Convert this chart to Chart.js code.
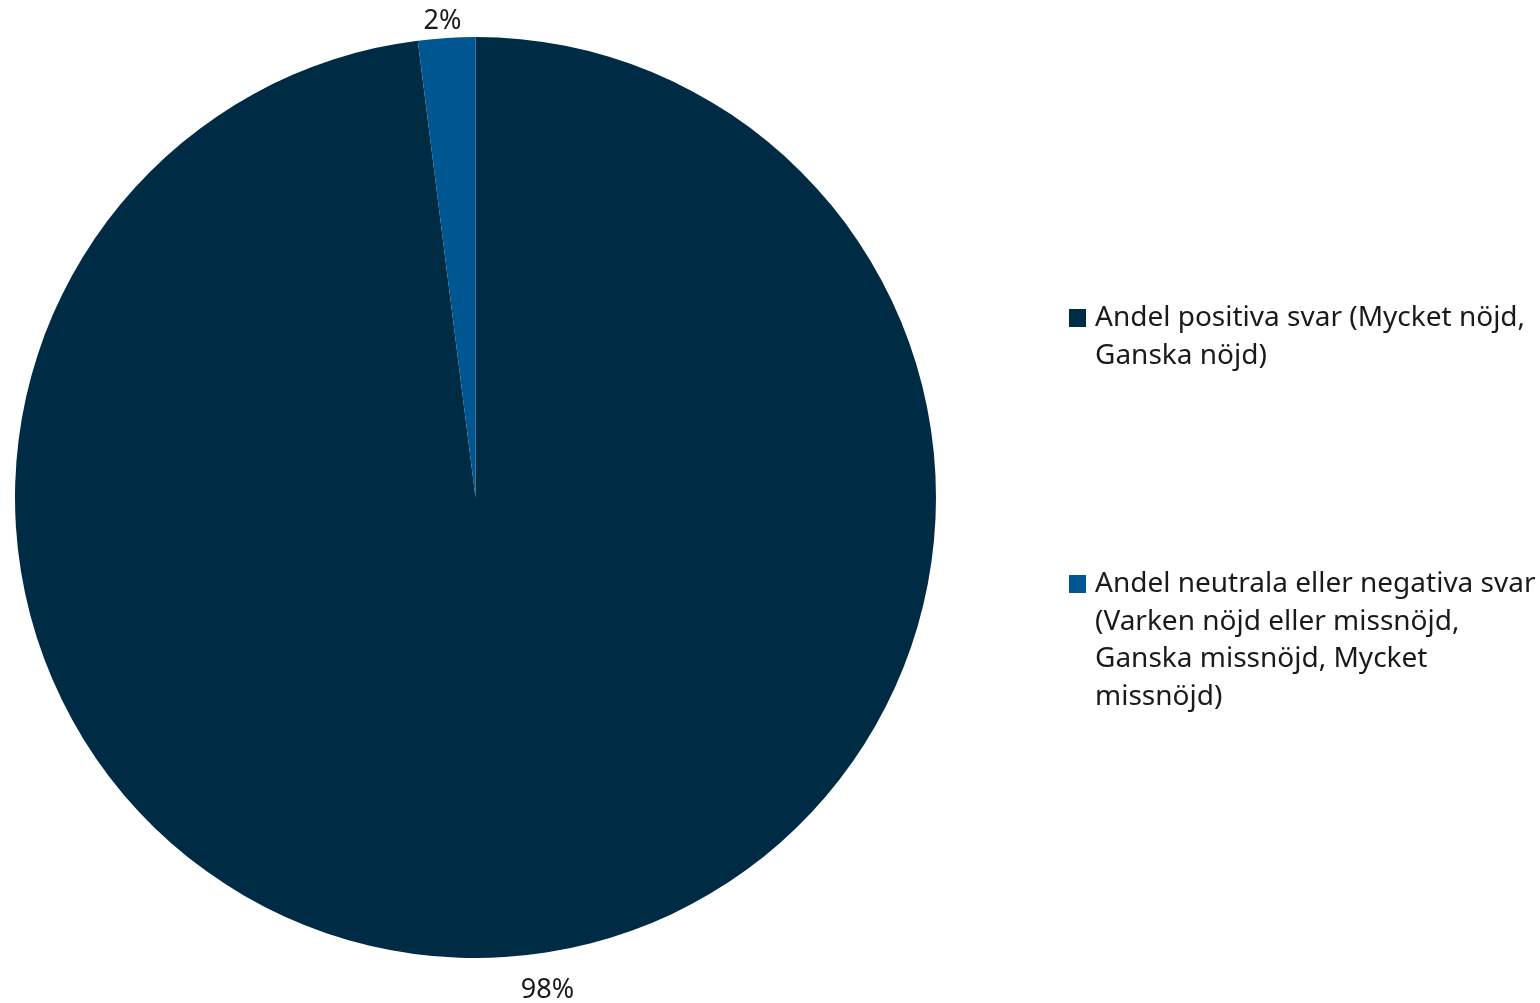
<!DOCTYPE html>
<html>
<head>
<meta charset="utf-8">
<script src="https://cdn.jsdelivr.net/npm/chart.js@4"></script>
<style>
  html, body { margin: 0; padding: 0; background: #fff; }
  #wrap { position: relative; width: 1540px; height: 1003px; }
  canvas { position: absolute; left: 0; top: 0; }
  #legend { position: absolute; left: 1069px; top: 0; width: 471px;
            font-family: "Noto Sans", sans-serif; font-size: 28px; line-height: 37.5px; color: #1a1a1a; }
  .item { position: absolute; left: 0; width: 471px; }
  .sw { position: absolute; left: 0; width: 17px; height: 18px; }
  .tx { margin-left: 26px; width: 445px; }
</style>
</head>
<body>
<div id="wrap">
  <canvas id="c" width="1540" height="1003"></canvas>
  <div id="legend"></div>
</div>
<script>
const categories = [
  "Andel positiva svar (Mycket nöjd, Ganska nöjd)",
  "Andel neutrala eller negativa svar (Varken nöjd eller missnöjd, Ganska missnöjd, Mycket missnöjd)"
];
const values = [98, 2];
const valueLabels = ["98%", "2%"];
const colors = ["#002B45", "#005690"];

const labelPlugin = {
  id: 'sliceLabels',
  afterDatasetsDraw(chart) {
    const ctx = chart.ctx;
    const meta = chart.getDatasetMeta(0);
    ctx.save();
    ctx.font = '27px "Noto Sans", sans-serif';
    ctx.fillStyle = '#1a1a1a';
    ctx.textAlign = 'center';
    ctx.textBaseline = 'middle';
    meta.data.forEach((arc, i) => {
      const p = arc.getProps(['x','y','startAngle','endAngle','outerRadius'], true);
      const mid = (p.startAngle + p.endAngle) / 2;
      const r = p.outerRadius + (i === 0 ? 33 : 17);
      let x = p.x + Math.cos(mid) * r;
      let y = p.y + Math.sin(mid) * r;
      if (i === 0) x += 41; else x -= 3;
      ctx.fillText(valueLabels[i], x, y);
    });
    ctx.restore();
  }
};

new Chart(document.getElementById('c'), {
  type: 'pie',
  data: {
    labels: categories,
    datasets: [{ data: values, backgroundColor: colors, borderWidth: 0 }]
  },
  options: {
    responsive: false,
    animation: false,
    devicePixelRatio: 1,
    layout: { padding: { left: 15, top: 37, right: 604, bottom: 45 } },
    plugins: { legend: { display: false }, tooltip: { enabled: false } }
  },
  plugins: [labelPlugin]
});

const legend = document.getElementById('legend');
const tops = [297, 563];
categories.forEach((c, i) => {
  const it = document.createElement('div');
  it.className = 'item';
  it.style.top = tops[i] + 'px';
  const sw = document.createElement('div');
  sw.className = 'sw';
  sw.style.background = colors[i];
  sw.style.top = '12px';
  const tx = document.createElement('div');
  tx.className = 'tx';
  tx.textContent = c;
  it.appendChild(sw);
  it.appendChild(tx);
  legend.appendChild(it);
});
</script>
</body>
</html>
